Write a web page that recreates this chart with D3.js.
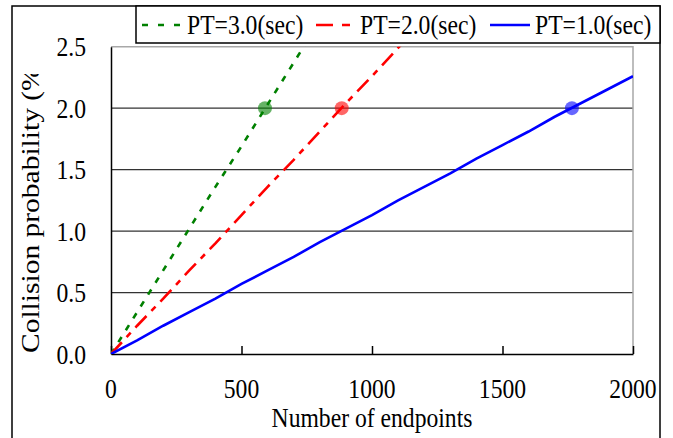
<!DOCTYPE html>
<html>
<head>
<meta charset="utf-8">
<script src="https://cdn.jsdelivr.net/npm/d3@7/dist/d3.min.js"></script>
<style>
  body { margin: 0; background: #fff; }
  text { font-family: 'Liberation Serif', 'Times New Roman', serif; fill: #000; }
</style>
</head>
<body>
<script>
const endpoints = [0, 100, 200, 300, 400, 500, 600, 700, 800, 900, 1000,
  1100, 1200, 1300, 1400, 1500, 1600, 1700, 1800, 1900, 2000]
const pt3 = [0, 0.34, 0.68, 1.02, 1.36, 1.69, 2.03, 2.37, 2.71]
const pt2 = [0, 0.23, 0.45, 0.68, 0.90, 1.13, 1.36, 1.58, 1.81, 2.04, 2.26, 2.49, 2.71]
const pt1 = [0, 0.11, 0.23, 0.34, 0.45, 0.57, 0.68, 0.79, 0.91, 1.02, 1.13,
  1.25, 1.36, 1.47, 1.59, 1.70, 1.81, 1.93, 2.04, 2.15, 2.26]
const seriesNames = ['PT=3.0(sec)', 'PT=2.0(sec)', 'PT=1.0(sec)']
const markerX = [590, 884, 1766]
const markerY = [2.0, 2.0, 2.0]
const xTicks = [0, 500, 1000, 1500, 2000]
const yTicks = [0, 0.5, 1.0, 1.5, 2.0, 2.5]

const W = 673, H = 438
const plot = { left: 111, right: 633, top: 46.7, bottom: 354 }
const colors = ['#008000', '#ff0000', '#0000ff']
const dashes = ['6,8', '16,7,6,7', null]
const fontSize = 27.5
const squeeze = 0.86 // reference text is a bit narrower than tall

const svg = d3.select('body').append('svg')
  .attr('width', W)
  .attr('height', H)

const x = d3.scaleLinear().domain([0, 2000]).range([plot.left, plot.right])
const y = d3.scaleLinear().domain([0, 2.5]).range([plot.bottom, plot.top])

// outer frame
svg.append('rect')
  .attr('x', 12).attr('y', 6)
  .attr('width', 648).attr('height', H + 20)
  .attr('fill', 'none').attr('stroke', '#000').attr('stroke-width', 1.5)

const defs = svg.append('defs')
defs.append('clipPath').attr('id', 'plot-clip')
  .append('rect')
    .attr('x', plot.left).attr('y', plot.top)
    .attr('width', plot.right - plot.left).attr('height', plot.bottom - plot.top)
defs.append('clipPath').attr('id', 'ytitle-clip')
  .append('rect').attr('x', 0).attr('y', 74).attr('width', 60).attr('height', 320)

// gridlines
svg.append('g')
  .selectAll('line')
  .data(yTicks.filter(d => d > 0 && d < 2.5)).enter()
  .append('line')
    .attr('x1', plot.left).attr('x2', plot.right)
    .attr('y1', d => y(d)).attr('y2', d => y(d))
    .attr('stroke', '#333').attr('stroke-width', 1.2)

// plot area top/right border
svg.append('path')
  .attr('d', `M${plot.left},${plot.top}H${plot.right}V${plot.bottom}`)
  .attr('fill', 'none').attr('stroke', '#a8a8a8').attr('stroke-width', 1.5)

const xAxis = d3.axisBottom(x).tickValues(xTicks).tickSizeInner(-8).tickSizeOuter(0).tickFormat('')
svg.append('g')
  .attr('transform', `translate(0,${plot.bottom})`)
  .call(xAxis)
  .call(g => g.selectAll('line, path').attr('stroke', '#000').attr('stroke-width', 1.5))

const yAxis = d3.axisLeft(y).tickValues(yTicks).tickSize(0).tickFormat('')
svg.append('g')
  .attr('transform', `translate(${plot.left},0)`)
  .call(yAxis)
  .call(g => g.select('path').attr('stroke', '#000').attr('stroke-width', 1.5))

// tick labels
svg.append('g')
  .selectAll('text')
  .data(xTicks).enter()
  .append('text')
    .attr('transform', d => `translate(${x(d)},398) scale(${squeeze},1)`)
    .attr('text-anchor', 'middle')
    .attr('font-size', fontSize)
    .text(d => d)

svg.append('g')
  .selectAll('text')
  .data(yTicks).enter()
  .append('text')
    .attr('transform', d => `translate(86,${y(d) + 9.5}) scale(${squeeze},1)`)
    .attr('text-anchor', 'end')
    .attr('font-size', fontSize)
    .text(d => d.toFixed(1))

// axis titles
svg.append('text')
  .attr('transform', `translate(${(plot.left + plot.right) / 2},427) scale(${squeeze},1)`)
  .attr('text-anchor', 'middle')
  .attr('font-size', fontSize)
  .text('Number of endpoints')

svg.append('g').attr('clip-path', 'url(#ytitle-clip)')
  .append('text')
    .attr('transform', `translate(39,353) scale(${squeeze},1) rotate(-90)`)
    .attr('text-anchor', 'start')
    .attr('font-size', 29.5)
    .text('Collision probability (%)')

// series
const series = [pt3, pt2, pt1].map((vals, i) => ({
  name: seriesNames[i],
  points: vals.map((v, j) => [endpoints[j], v])
}))

const line = d3.line().x(d => x(d[0])).y(d => y(d[1]))

const lines = svg.append('g').attr('clip-path', 'url(#plot-clip)')
lines.selectAll('path')
  .data(series).enter()
  .append('path')
    .attr('d', d => line(d.points))
    .attr('fill', 'none')
    .attr('stroke', (d, i) => colors[i])
    .attr('stroke-width', 2.6)
    .attr('stroke-dasharray', (d, i) => dashes[i])

svg.append('g')
  .selectAll('circle')
  .data(markerX).enter()
  .append('circle')
    .attr('cx', d => x(d))
    .attr('cy', (d, i) => y(markerY[i]))
    .attr('r', 7)
    .attr('fill', (d, i) => colors[i])
    .attr('fill-opacity', 0.6)

// legend
svg.append('rect')
  .attr('x', 136).attr('y', 6)
  .attr('width', 524).attr('height', 37)
  .attr('fill', '#fff').attr('stroke', '#000').attr('stroke-width', 1.5)

const legendX = [[142, 180, 187], [316, 350, 360], [490, 530, 535]]
const legend = svg.append('g')
legend.selectAll('line')
  .data(series).enter()
  .append('line')
    .attr('x1', (d, i) => legendX[i][0]).attr('x2', (d, i) => legendX[i][1])
    .attr('y1', 25).attr('y2', 25)
    .attr('stroke', (d, i) => colors[i])
    .attr('stroke-width', 2.6)
    .attr('stroke-dasharray', (d, i) => i === 0 ? '6,10' : i === 1 ? '17,9,8,9' : null)

legend.selectAll('text')
  .data(series).enter()
  .append('text')
    .attr('transform', (d, i) => `translate(${legendX[i][2]},34) scale(${squeeze},1)`)
    .attr('font-size', fontSize)
    .text(d => d.name)
</script>
</body>
</html>
